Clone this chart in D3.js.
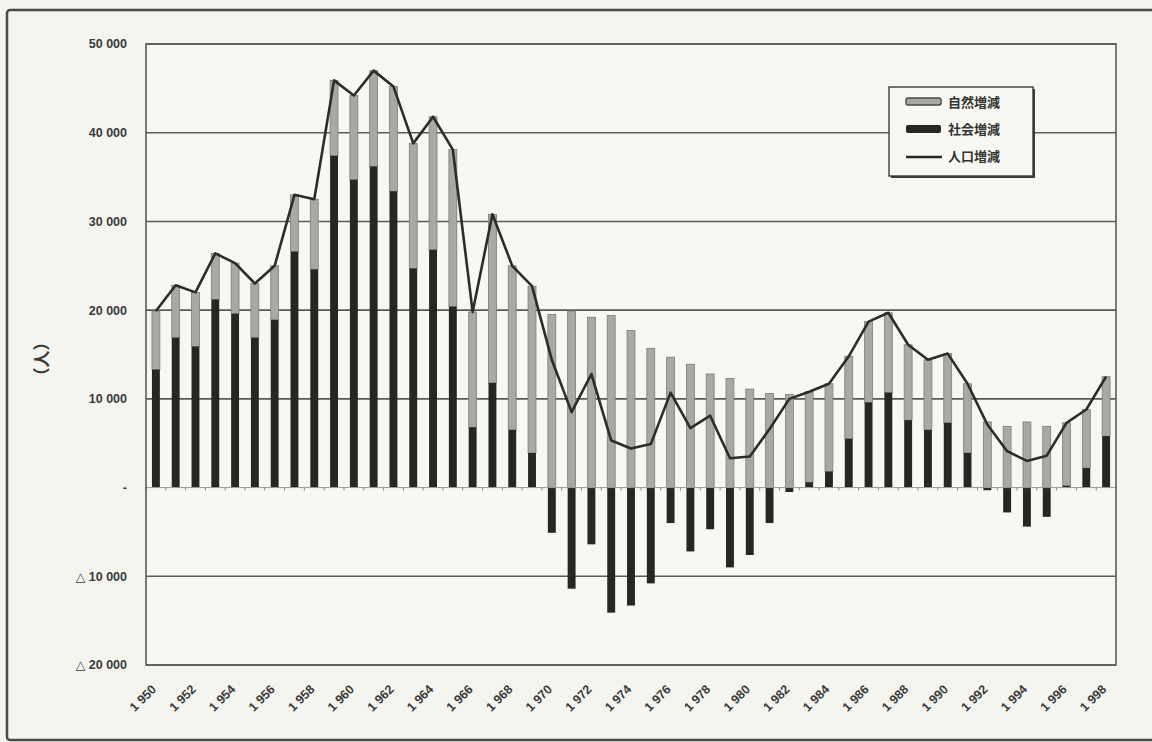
<!DOCTYPE html>
<html>
<head>
<meta charset="utf-8">
<script src="https://cdn.jsdelivr.net/npm/d3@7"></script>
<style>
  html, body { margin: 0; padding: 0; background: #f4f4ee; }
  svg { display: block; }
</style>
</head>
<body>
<div id="chart"></div>
<script>
//////////////////////
//  main constants  //
//////////////////////
const WIDTH = 1152;
const HEIGHT = 742;
const MARGIN = { TOP: 44, BOTTOM: 77, LEFT: 146, RIGHT: 36 };

const years = d3.range(1950, 1999);
// 社会増減 (social increase, black)
const social = [
  13300, 16900, 15900, 21200, 19600, 16900, 18900, 26600, 24600, 37400,
  34700, 36200, 33400, 24700, 26800, 20400, 6800, 11800, 6500, 3900,
  -5100, -11400, -6400, -14100, -13300, -10800, -4000, -7200, -4700, -9000,
  -7600, -4000, -500, 600, 1800, 5500, 9600, 10700, 7600, 6500,
  7300, 3900, -300, -2800, -4400, -3300, 200, 2200, 5800
];
// 自然増減 (natural increase, gray)
const natural = [
  6600, 5900, 6100, 5200, 5700, 6100, 6100, 6400, 7900, 8500,
  9500, 10800, 11800, 14100, 15000, 17700, 13000, 19000, 18500, 18800,
  19500, 19900, 19200, 19400, 17700, 15700, 14700, 13900, 12800, 12300,
  11100, 10600, 10500, 10200, 9900, 9300, 9100, 9000, 8500, 7900,
  7800, 7800, 7400, 6900, 7400, 6900, 7100, 6600, 6700
];
// 人口増減 (population increase, line)
const total = social.map((s, i) => s + natural[i]);

const yTicks = [-20000, -10000, 0, 10000, 20000, 30000, 40000, 50000];
const xTickYears = years.filter(y => y % 2 === 0);
const legendLabels = ["自然増減", "社会増減", "人口増減"];

const FONT_NUM = "'Liberation Sans', 'DejaVu Sans', sans-serif";
const FONT_JP = "'Noto Sans CJK JP', sans-serif";

//////////////////
//  svg + frame //
//////////////////
const svg = d3.select("#chart").append("svg")
  .attr("width", WIDTH).attr("height", HEIGHT);

svg.append("rect")
  .attr("x", 7).attr("y", 10)
  .attr("width", WIDTH + 10).attr("height", 730)
  .attr("rx", 3)
  .attr("fill", "#f5f5f0")
  .attr("stroke", "#4a4a48").attr("stroke-width", 2.5);

const x = d3.scaleBand()
  .domain(years)
  .range([MARGIN.LEFT, WIDTH - MARGIN.RIGHT])
  .paddingInner(0.6)
  .paddingOuter(0.3);

const y = d3.scaleLinear()
  .domain([-20000, 50000])
  .range([HEIGHT - MARGIN.BOTTOM, MARGIN.TOP]);

const plotL = MARGIN.LEFT, plotR = WIDTH - MARGIN.RIGHT;

// plot background
svg.append("rect")
  .attr("x", plotL).attr("y", y(50000))
  .attr("width", plotR - plotL).attr("height", y(-20000) - y(50000))
  .attr("fill", "#f8f8f3");

///////////////
//  grid     //
///////////////
svg.append("g")
  .selectAll("line")
  .data(yTicks.filter(d => d !== 0))
  .join("line")
  .attr("x1", plotL).attr("x2", plotR)
  .attr("y1", d => y(d)).attr("y2", d => y(d))
  .attr("stroke", "#5a5a58").attr("stroke-width", 1.6);

function fmtTick(d) {
  if (d === 0) return "-";
  const s = d3.format(",")(Math.abs(d)).replace(/,/g, " ");
  return d < 0 ? "△ " + s : s;
}

svg.append("g")
  .selectAll("text")
  .data(yTicks)
  .join("text")
  .attr("x", 127)
  .attr("y", d => y(d))
  .attr("dy", "0.35em")
  .attr("text-anchor", "end")
  .attr("font-family", FONT_NUM)
  .attr("font-size", 12.5)
  .attr("font-weight", "bold")
  .attr("fill", "#3a3a38")
  .text(fmtTick);

// y axis label
svg.append("text")
  .attr("transform", `translate(42, ${y(14500)}) rotate(-90)`)
  .attr("text-anchor", "middle")
  .attr("dy", "0.35em")
  .attr("font-family", FONT_JP)
  .attr("font-size", 17)
  .attr("font-weight", "bold")
  .attr("fill", "#3a3a38")
  .text("（人）");

///////////////
//  bars     //
///////////////
const bw = x.bandwidth();

// natural increase (gray): stacked on social when social positive, from zero otherwise
svg.append("g")
  .selectAll("rect")
  .data(years)
  .join("rect")
  .attr("x", d => x(d))
  .attr("width", bw)
  .attr("y", (d, i) => y(Math.max(social[i], 0) + natural[i]))
  .attr("height", (d, i) => y(Math.max(social[i], 0)) - y(Math.max(social[i], 0) + natural[i]))
  .attr("fill", "#a9a9a4")
  .attr("stroke", "#7c7c78")
  .attr("stroke-width", 0.8);

// social increase (black)
svg.append("g")
  .selectAll("rect")
  .data(years)
  .join("rect")
  .attr("x", d => x(d))
  .attr("width", bw)
  .attr("y", (d, i) => y(Math.max(social[i], 0)))
  .attr("height", (d, i) => Math.abs(y(social[i]) - y(0)))
  .attr("fill", "#262624");

// zero axis with small ticks
svg.append("line")
  .attr("x1", plotL).attr("x2", plotR)
  .attr("y1", y(0)).attr("y2", y(0))
  .attr("stroke", "#9a9a96").attr("stroke-width", 1);

svg.append("g")
  .selectAll("line")
  .data(years)
  .join("line")
  .attr("x1", d => x(d) - x.step() * 0.3).attr("x2", d => x(d) - x.step() * 0.3)
  .attr("y1", y(0)).attr("y2", y(0) + 3)
  .attr("stroke", "#8a8a86").attr("stroke-width", 1);

// plot border (left, right, bottom, top)
svg.append("rect")
  .attr("x", plotL).attr("y", y(50000))
  .attr("width", plotR - plotL).attr("height", y(-20000) - y(50000))
  .attr("fill", "none")
  .attr("stroke", "#5a5a58").attr("stroke-width", 1.6);

///////////////
//  line     //
///////////////
const line = d3.line()
  .x((d, i) => x(years[i]) + bw / 2)
  .y(d => y(d));

svg.append("path")
  .datum(total)
  .attr("d", line)
  .attr("fill", "none")
  .attr("stroke", "#2c2c2a")
  .attr("stroke-width", 2.6)
  .attr("stroke-linejoin", "round");

///////////////
//  x labels //
///////////////
svg.append("g")
  .selectAll("text")
  .data(xTickYears)
  .join("text")
  .attr("transform", d => `translate(${x(d) + bw / 2 - 2}, ${y(-20000) + 22}) rotate(-45)`)
  .attr("text-anchor", "end")
  .attr("dy", "0.35em")
  .attr("font-family", FONT_NUM)
  .attr("font-size", 12.5)
  .attr("font-weight", "bold")
  .attr("fill", "#3a3a38")
  .text(d => String(d).charAt(0) + " " + String(d).slice(1));

///////////////
//  legend   //
///////////////
const lg = svg.append("g").attr("transform", "translate(889, 87)");
lg.append("rect")
  .attr("x", 2).attr("y", 2).attr("width", 144).attr("height", 89)
  .attr("fill", "#3a3a38");
lg.append("rect")
  .attr("width", 144).attr("height", 89)
  .attr("fill", "#f8f8f3")
  .attr("stroke", "#3a3a38").attr("stroke-width", 1.4);

lg.append("rect")
  .attr("x", 17).attr("y", 11).attr("width", 35).attr("height", 7)
  .attr("rx", 2)
  .attr("fill", "#a9a9a4").attr("stroke", "#4a4a48").attr("stroke-width", 1.4);
lg.append("rect")
  .attr("x", 17).attr("y", 38).attr("width", 35).attr("height", 8)
  .attr("rx", 2)
  .attr("fill", "#262624");
lg.append("line")
  .attr("x1", 17).attr("x2", 53).attr("y1", 70).attr("y2", 70)
  .attr("stroke", "#262624").attr("stroke-width", 2.5);

lg.selectAll("text.lbl")
  .data(legendLabels)
  .join("text")
  .attr("class", "lbl")
  .attr("x", 59)
  .attr("y", (d, i) => 15 + i * 27)
  .attr("dy", "0.35em")
  .attr("font-family", FONT_JP)
  .attr("font-size", 13)
  .attr("font-weight", "bold")
  .attr("fill", "#333331")
  .text(d => d);
</script>
</body>
</html>
